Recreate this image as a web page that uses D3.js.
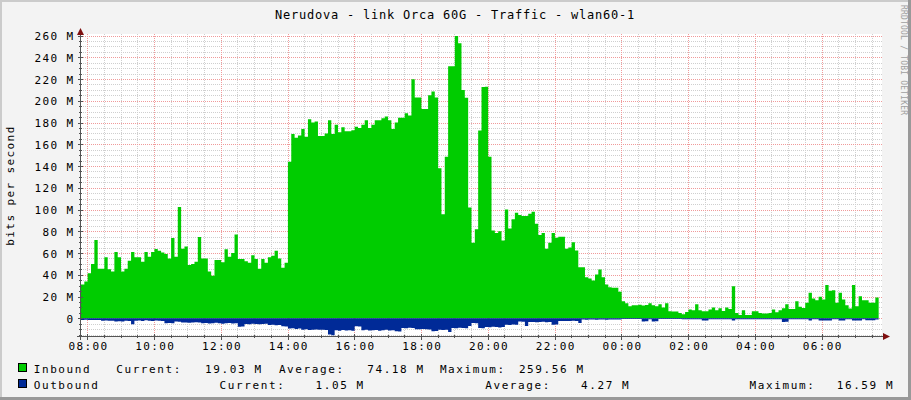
<!DOCTYPE html>
<html><head><meta charset="utf-8">
<script src="https://cdn.jsdelivr.net/npm/d3@7"></script>
<style>
html,body{margin:0;padding:0;background:#f3f3f3;}
svg{display:block;}
text{font-family:"DejaVu Sans Mono",monospace;}
</style></head><body>
<svg id="chart" width="911" height="400"></svg>
<script>
// ---------- data ----------
const chartTitle = "Nerudova - link Orca 60G - Traffic - wlan60-1";
const yAxisTitle = "bits per second";
const watermark = "RRDTOOL / TOBI OETIKER";
const yTickValues = [0, 20, 40, 60, 80, 100, 120, 140, 160, 180, 200, 220, 240, 260];
const yTickLabels = ["0", "20 M", "40 M", "60 M", "80 M", "100 M", "120 M", "140 M", "160 M", "180 M", "200 M", "220 M", "240 M", "260 M"];
const xTickLabels = ["08:00", "10:00", "12:00", "14:00", "16:00", "18:00", "20:00", "22:00", "00:00", "02:00", "04:00", "06:00"];
const seriesNames = ["Inbound", "Outbound"];
const seriesColors = ["#00CC00", "#002A97"];
const stepMinutes = 6;
// Inbound traffic, Mbit/s, one value per 6-minute step from 07:48:40
const inbound = [
  31, 33.8, 41.5, 50, 72, 45.5, 45.5, 56, 45, 43,
  61, 56, 43, 45.5, 53, 61, 56, 56, 52, 61,
  56.5, 61, 63.7, 62, 60.5, 59, 55, 73.8, 56.5, 102.4,
  64, 66, 49, 50, 52, 74.7, 55, 55, 43, 39,
  53.5, 53.5, 51.5, 63.5, 56.5, 60, 77, 54.5, 54.5, 52.5,
  51, 58, 54.5, 45.5, 54.5, 51, 56, 57.5, 62, 55,
  46.5, 51, 144, 169.5, 166, 168, 174, 167, 183, 180,
  181, 167.6, 167.6, 170, 182, 169.5, 178, 171, 175.6, 172,
  172, 173, 176, 175, 178, 182, 175, 178, 182, 182,
  184, 185.5, 182, 174, 180, 184.5, 184.5, 188.6, 186.5, 219.7,
  203, 203, 192.5, 192.5, 205, 208.6, 203, 138, 95.6, 148.6,
  231.7, 231.7, 259.56, 253, 210, 202.7, 101.8, 69.5, 81.8, 172.6,
  212.6, 213, 148.6, 80.8, 78.5, 80, 71.6, 100, 82.6, 91,
  97, 95, 94, 94, 96, 98, 87, 76.6, 78.5, 64,
  69.5, 78.5, 74, 75, 75, 64, 65, 70, 62.4, 47,
  47, 37.8, 36.6, 34.7, 40.3, 44.9, 37.8, 31, 28.6, 28,
  28, 24.3, 15.7, 13.8, 11, 12, 12, 12.5, 11.8, 12.2,
  13.8, 12, 11, 13, 10, 13.8, 6.5, 6.2, 6.2, 4.9,
  3.7, 5.8, 8, 7.4, 12.9, 7.4, 6.5, 6.5, 8, 9.8,
  7.4, 9.2, 6.8, 9.8, 8.6, 29.5, 4.9, 3, 7.4, 3,
  3, 6.5, 6.5, 4.9, 4.3, 4.3, 4.9, 8, 5.5, 7.4,
  9.2, 12.9, 8.6, 8.6, 15.7, 10.5, 9.5, 14.2, 23.4, 18.2,
  16.6, 19.7, 17.2, 30.5, 25.2, 25.8, 14.2, 23.4, 17.2, 12,
  8.9, 30.5, 11, 20.3, 16.6, 16.6, 14.2, 14.2, 19.03
];
// Outbound traffic, Mbit/s (drawn below zero)
const outbound = [
  1.5, 1.4, 1.6, 1.5, 1.7, 1.5, 2.2, 2.0, 2.3, 2.2,
  3, 2.8, 3, 2.2, 2.4, 5.5, 2.2, 2.0, 2.5, 1.8,
  2.2, 2.6, 2.0, 2.2, 2.4, 4.6, 4.4, 4.6, 3, 3.2,
  4, 3.8, 4.2, 4, 3.6, 4, 4.6, 4.4, 4.8, 4.6,
  4.2, 4.6, 5, 4.6, 4.4, 4.8, 4.6, 7.7, 7.5, 5.2,
  5.4, 5, 5.2, 5.6, 5.2, 5, 6.2, 6, 6.4, 6.2,
  7.4, 7.6, 9.5, 9.2, 9.8, 9.5, 10.5, 10.2, 10.8, 10.5,
  10.3, 10.6, 10.5, 10.8, 15, 15.5, 11, 11.4, 10.8, 11.2,
  11, 11.5, 7.4, 7.6, 11, 10.6, 11.2, 11, 10.8, 11.4,
  11, 10.6, 11.2, 11, 12, 12.2, 9, 9.2, 8.8, 9,
  10, 10.2, 9.8, 10, 10.4, 12, 11.8, 10.5, 10.8, 10.5,
  12.6, 9, 9.2, 8.8, 9, 9.2, 7, 4.3, 4.5, 9,
  9.2, 8, 8.2, 7.8, 8, 8.4, 8, 6, 6.2, 5.8,
  6, 3, 3.2, 7, 3.5, 3.4, 3.6, 3.5, 3.3, 3.6,
  3.5, 6, 5.8, 2.5, 2.4, 2.6, 2.5, 2.3, 2.5, 4.3,
  1.2, 1.3, 1.1, 1.2, 1.4, 1.2, 1.1, 1.3, 1.2, 1.2,
  1.1, 1.2, 0.6, 0.6, 0.6, 0.6, 0.6, 0.6, 3, 2.8,
  0.8, 3, 2.8, 0.7, 0.7, 0.7, 0.7, 0.7, 0.7, 0.7,
  0.9, 0.9, 0.9, 0.9, 0.9, 0.9, 2, 2, 0.9, 0.9,
  0.9, 0.9, 0.9, 0.9, 0.9, 2, 0.9, 0.9, 0.9, 0.9,
  0.9, 0.9, 0.9, 0.9, 0.9, 0.9, 0.9, 0.9, 0.9, 0.9,
  3.4, 3.2, 0.9, 0.9, 0.9, 0.9, 0.9, 0.9, 2, 0.9,
  0.9, 2, 2, 2, 2, 0.9, 0.9, 2, 2, 0.9,
  0.9, 2, 2, 2, 0.9, 1.8, 1.8, 1.8, 1.05
];
const legendInbound = ["Inbound", "Current:", "19.03 M", "Average:", "74.18 M", "Maximum:", "259.56 M"];
const legendOutbound = ["Outbound", "Current:", "1.05 M", "Average:", "4.27 M", "Maximum:", "16.59 M"];

// ---------- layout ----------
const W = 911, H = 400;
const plot = {left: 81, right: 882, top: 34, bottom: 336};
const startTime = new Date(2024, 0, 1, 7, 48, 40);
const endTime = new Date(startTime.getTime() + 24 * 3600 * 1000);

const svg = d3.select("#chart");
const x = d3.scaleTime().domain([startTime, endTime]).range([plot.left, plot.right]);
const y = d3.scaleLinear().domain([-16.3, 261.4]).range([plot.bottom, plot.top]);

// background and 3D border
svg.append("rect").attr("x", 0).attr("y", 0).attr("width", W).attr("height", H).attr("fill", "#f3f3f3");
svg.append("rect").attr("x", 0).attr("y", 0).attr("width", W).attr("height", 2).attr("fill", "#cbcbcb");
svg.append("rect").attr("x", 0).attr("y", 0).attr("width", 2).attr("height", H).attr("fill", "#cbcbcb");
svg.append("rect").attr("x", W - 3).attr("y", 0).attr("width", 3).attr("height", H).attr("fill", "#999");
svg.append("rect").attr("x", 0).attr("y", H - 3).attr("width", W).attr("height", 3).attr("fill", "#999");

// canvas
svg.append("rect").attr("x", plot.left).attr("y", plot.top)
  .attr("width", plot.right - plot.left).attr("height", plot.bottom - plot.top).attr("fill", "#ffffff");

// grid
const minorX = x.ticks(d3.timeMinute.every(30)).filter(d => d.getMinutes() !== 0 || d.getHours() % 2 !== 0);
const majorX = x.ticks(d3.timeHour.every(2));
const minorY = d3.range(-15, 262, 5).filter(v => v % 20 !== 0);
const majorY = yTickValues;
const grid = svg.append("g").attr("shape-rendering", "crispEdges");
grid.selectAll(".mx").data(minorX).join("line")
  .attr("x1", d => Math.round(x(d)) + 0.5).attr("x2", d => Math.round(x(d)) + 0.5)
  .attr("y1", plot.top).attr("y2", plot.bottom)
  .attr("stroke", "#cfcfcf").attr("stroke-dasharray", "1,1");
grid.selectAll(".my").data(minorY).join("line")
  .attr("x1", plot.left).attr("x2", plot.right)
  .attr("y1", d => Math.round(y(d)) + 0.5).attr("y2", d => Math.round(y(d)) + 0.5)
  .attr("stroke", "#cfcfcf").attr("stroke-dasharray", "1,1");
grid.selectAll(".Mx").data(majorX).join("line")
  .attr("x1", d => Math.round(x(d)) + 0.5).attr("x2", d => Math.round(x(d)) + 0.5)
  .attr("y1", plot.top).attr("y2", plot.bottom)
  .attr("stroke", "#f09a9a").attr("stroke-dasharray", "1,1");
grid.selectAll(".My").data(majorY).join("line")
  .attr("x1", plot.left).attr("x2", plot.right)
  .attr("y1", d => Math.round(y(d)) + 0.5).attr("y2", d => Math.round(y(d)) + 0.5)
  .attr("stroke", "#f09a9a").attr("stroke-dasharray", "1,1");

// series
function toPoints(arr, sign) {
  const pts = arr.map((v, i) => ({t: new Date(startTime.getTime() + i * stepMinutes * 60000), v: sign * v}));
  pts.push({t: new Date(startTime.getTime() + arr.length * stepMinutes * 60000), v: sign * arr[arr.length - 1]});
  return pts;
}
const area = d3.area().curve(d3.curveStepAfter)
  .x(d => x(d.t)).y0(y(0)).y1(d => y(d.v));
svg.append("path").datum(toPoints(inbound, 1)).attr("d", area).attr("fill", seriesColors[0]);
svg.append("path").datum(toPoints(outbound, -1)).attr("d", area).attr("fill", seriesColors[1]);

// axes lines and ticks
const axisColor = "#555";
const ax = svg.append("g").attr("shape-rendering", "crispEdges");
ax.append("line").attr("x1", 77).attr("x2", plot.right + 1).attr("y1", plot.bottom + 0.5).attr("y2", plot.bottom + 0.5).attr("stroke", axisColor);
ax.append("line").attr("x1", plot.left - 0.5).attr("x2", plot.left - 0.5).attr("y1", plot.top).attr("y2", 340).attr("stroke", axisColor);
ax.selectAll(".tx").data(minorX).join("line")
  .attr("x1", d => Math.round(x(d)) + 0.5).attr("x2", d => Math.round(x(d)) + 0.5)
  .attr("y1", plot.bottom - 1).attr("y2", plot.bottom + 2).attr("stroke", axisColor);
ax.selectAll(".tX").data(majorX).join("line")
  .attr("x1", d => Math.round(x(d)) + 0.5).attr("x2", d => Math.round(x(d)) + 0.5)
  .attr("y1", plot.bottom - 2).attr("y2", plot.bottom + 4).attr("stroke", axisColor);
ax.selectAll(".ty").data(minorY).join("line")
  .attr("x1", plot.left - 2).attr("x2", plot.left + 1)
  .attr("y1", d => Math.round(y(d)) + 0.5).attr("y2", d => Math.round(y(d)) + 0.5).attr("stroke", axisColor);
ax.selectAll(".tY").data(majorY).join("line")
  .attr("x1", plot.left - 3).attr("x2", plot.left + 2)
  .attr("y1", d => Math.round(y(d)) + 0.5).attr("y2", d => Math.round(y(d)) + 0.5).attr("stroke", axisColor);
// arrows
svg.append("path").attr("d", `M${plot.left - 4},35 L${plot.left - 0.5},28 L${plot.left + 3},35 Z`).attr("fill", "#7f1010");
svg.append("path").attr("d", `M${plot.right + 1},${plot.bottom - 3} L${plot.right + 8},${plot.bottom + 0.5} L${plot.right + 1},${plot.bottom + 4} Z`).attr("fill", "#7f1010");

// D3 axes for labels
const labelStyle = sel => sel.selectAll("text")
  .attr("font-family", "DejaVu Sans Mono").attr("font-size", "11px")
  .attr("letter-spacing", "1.4px").attr("fill", "#000");
const yAxis = d3.axisLeft(y).tickValues(yTickValues)
  .tickFormat((d, i) => yTickLabels[i]).tickSize(0).tickPadding(0);
const gy = svg.append("g").attr("transform", "translate(74.5,0.5)").call(yAxis);
gy.select(".domain").remove();
labelStyle(gy);

const dayMs = 24 * 3600 * 1000;
const xTickTimes = xTickLabels.map(s => {
  const [hh, mm] = s.split(":").map(Number);
  let d = new Date(2024, 0, 1, hh, mm);
  if (d < startTime) d = new Date(d.getTime() + dayMs);
  return d;
});
const xAxis = d3.axisBottom(x).tickValues(xTickTimes)
  .tickFormat((d, i) => xTickLabels[i]).tickSize(0).tickPadding(0);
const gx = svg.append("g").attr("transform", "translate(0.7,342)").call(xAxis);
gx.select(".domain").remove();
labelStyle(gx);

// title
svg.append("text").attr("x", 455).attr("y", 18.5).attr("text-anchor", "middle")
  .attr("font-size", "12px").attr("letter-spacing", "0.78px").attr("fill", "#000").text(chartTitle);
// y title
svg.append("text").attr("transform", "translate(14,185.5) rotate(-90)").attr("text-anchor", "middle")
  .attr("font-size", "11px").attr("letter-spacing", "1.4px").attr("fill", "#000").text(yAxisTitle);
// watermark
svg.append("text").attr("transform", "translate(901,5) rotate(90)").attr("text-anchor", "start")
  .attr("font-size", "8px").attr("letter-spacing", "0.2px").attr("fill", "#a0a0a0").text(watermark);

// legend
const legendX1 = [33.7, 116.2, 205.1, 278.9, 367.2, 439.9, 518.9];
const legendX2 = [33.7, 219.6, 315.5, 485.2, 581, 749.6, 836.7];
const rows = [
  {labels: legendInbound, xs: legendX1, y: 372.5, color: seriesColors[0], sy: 363},
  {labels: legendOutbound, xs: legendX2, y: 388.5, color: seriesColors[1], sy: 379}
];
rows.forEach(r => {
  svg.append("rect").attr("x", 18.5).attr("y", r.sy + 0.5).attr("width", 8).attr("height", 8)
    .attr("fill", r.color).attr("stroke", "#000").attr("shape-rendering", "crispEdges");
  svg.selectAll(null).data(r.labels).join("text")
    .attr("x", (d, i) => r.xs[i]).attr("y", r.y)
    .attr("font-size", "11px").attr("letter-spacing", "1.6px").attr("fill", "#000")
    .text(d => d);
});
</script>
</body></html>
